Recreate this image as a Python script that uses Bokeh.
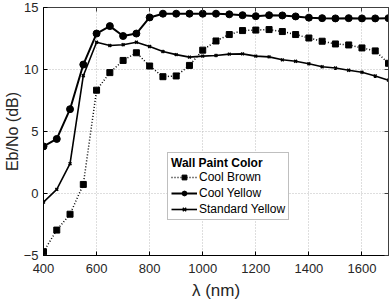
from bokeh.plotting import figure
from bokeh.models import Range1d, LinearAxis, FixedTicker, Legend, LegendItem
from bokeh.embed import file_html
from bokeh.resources import INLINE

wavelength = [400, 450, 500, 550, 600, 650, 700, 750, 800, 850, 900, 950,
              1000, 1050, 1100, 1150, 1200, 1250, 1300, 1350, 1400, 1450,
              1500, 1550, 1600, 1650, 1700]
cool_brown = [-4.7, -2.95, -1.67, 0.73, 8.33, 9.75, 10.73, 11.35, 10.28, 9.42, 9.48, 10.33,
              11.56, 12.3, 12.82, 13.14, 13.18, 13.22, 13.06, 12.82, 12.54, 12.28,
              12.06, 11.98, 11.74, 11.5, 10.5]
cool_yellow = [3.8, 4.4, 6.8, 10.4, 12.9, 13.5, 12.7, 12.9, 14.2, 14.5, 14.5, 14.5,
               14.5, 14.5, 14.45, 14.38, 14.3, 14.38, 14.36, 14.28, 14.18, 14.14,
               14.12, 14.14, 14.12, 14.12, 14.14]
standard_yellow = [-0.7, 0.33, 2.4, 9.5, 12.2, 11.93, 12.0, 12.2, 11.85, 11.45, 11.2, 11.0,
                   11.08, 11.13, 11.24, 11.26, 11.08, 11.02, 10.78, 10.66, 10.46, 10.22,
                   10.12, 9.94, 9.78, 9.48, 9.14]
series_names = ["Cool Brown", "Cool Yellow", "Standard Yellow"]
x_ticks = [400, 600, 800, 1000, 1200, 1400, 1600]
y_ticks = [-5, 0, 5, 10, 15]
legend_title = "Wall Paint Color"
x_label = "λ (nm)"
y_label = "Eb/No (dB)"

FONT = "Liberation Sans"

p = figure(width=391, height=303, output_backend="svg", toolbar_location=None,
           x_range=Range1d(400, 1700), y_range=Range1d(-5, 15),
           min_border_left=43, min_border_right=3, min_border_top=7, min_border_bottom=48)
p.background_fill_color = "white"
p.border_fill_color = "white"
p.outline_line_color = "#404040"

for ax in [p.xaxis[0], p.yaxis[0]]:
    ax.major_label_text_font = FONT
    ax.major_label_text_font_size = "13px"
    ax.major_label_text_color = "#262626"
    ax.axis_label_text_font = FONT
    ax.axis_label_text_font_size = "17px"
    ax.axis_label_text_font_style = "normal"
    ax.axis_label_text_color = "#262626"
    ax.axis_line_color = "black"
    ax.major_tick_line_color = "black"
    ax.major_tick_in = 4
    ax.major_tick_out = 0
    ax.minor_tick_line_color = None

p.xaxis[0].ticker = FixedTicker(ticks=x_ticks)
p.yaxis[0].ticker = FixedTicker(ticks=y_ticks)
p.xaxis[0].axis_label = x_label
p.yaxis[0].axis_label = y_label
p.yaxis[0].axis_label_text_font_size = "16px"
p.xaxis[0].major_label_standoff = 8
p.yaxis[0].major_label_standoff = 5
p.xaxis[0].axis_label_standoff = 5
p.yaxis[0].axis_label_standoff = 0

top_axis = LinearAxis(ticker=FixedTicker(ticks=x_ticks), major_label_text_font_size="1px",
                      major_label_text_color=None,
                      major_tick_in=4, major_tick_out=0, minor_tick_line_color=None,
                      axis_line_color="#404040", major_tick_line_color="#404040",
                      major_label_standoff=0)
right_axis = LinearAxis(ticker=FixedTicker(ticks=y_ticks), major_label_text_font_size="1px",
                        major_label_text_color=None,
                        major_tick_in=4, major_tick_out=0, minor_tick_line_color=None,
                        axis_line_color="#404040", major_tick_line_color="#404040",
                        major_label_standoff=0)
p.add_layout(top_axis, "above")
p.add_layout(right_axis, "right")

p.xgrid.ticker = FixedTicker(ticks=x_ticks)
p.ygrid.ticker = FixedTicker(ticks=y_ticks)
p.grid.grid_line_color = "#bdbdbd"
p.grid.grid_line_dash = "1 2"
p.grid.grid_line_width = 1

l1 = p.line(wavelength, cool_brown, line_color="black", line_width=1.5, line_dash="1 2")
s1 = p.scatter(wavelength, cool_brown, marker="square", size=6, fill_color="black", line_color="black")
l2 = p.line(wavelength, cool_yellow, line_color="black", line_width=2)
s2 = p.scatter(wavelength, cool_yellow, marker="circle", size=7, fill_color="black", line_color="black")
l3 = p.line(wavelength, standard_yellow, line_color="black", line_width=1.6)
s3 = p.scatter(wavelength, standard_yellow, marker="x", size=4, line_color="black", line_width=1.5)

legend = Legend(items=[LegendItem(label=series_names[0], renderers=[l1, s1]),
                       LegendItem(label=series_names[1], renderers=[l2, s2]),
                       LegendItem(label=series_names[2], renderers=[l3, s3])],
                location=(124, 35), title=legend_title,
                title_text_font=FONT, title_text_font_size="12px", title_text_font_style="bold",
                title_text_color="black", title_standoff=0,
                label_text_font=FONT, label_text_font_size="12px", label_text_color="black",
                glyph_width=26, glyph_height=12, label_standoff=2, spacing=2,
                padding=3, margin=0, border_line_color="#808080", border_line_width=1,
                background_fill_color="white", background_fill_alpha=1.0,
                label_height=12)
p.add_layout(legend, "center")

open("out.html", "w").write(file_html(p, INLINE))
